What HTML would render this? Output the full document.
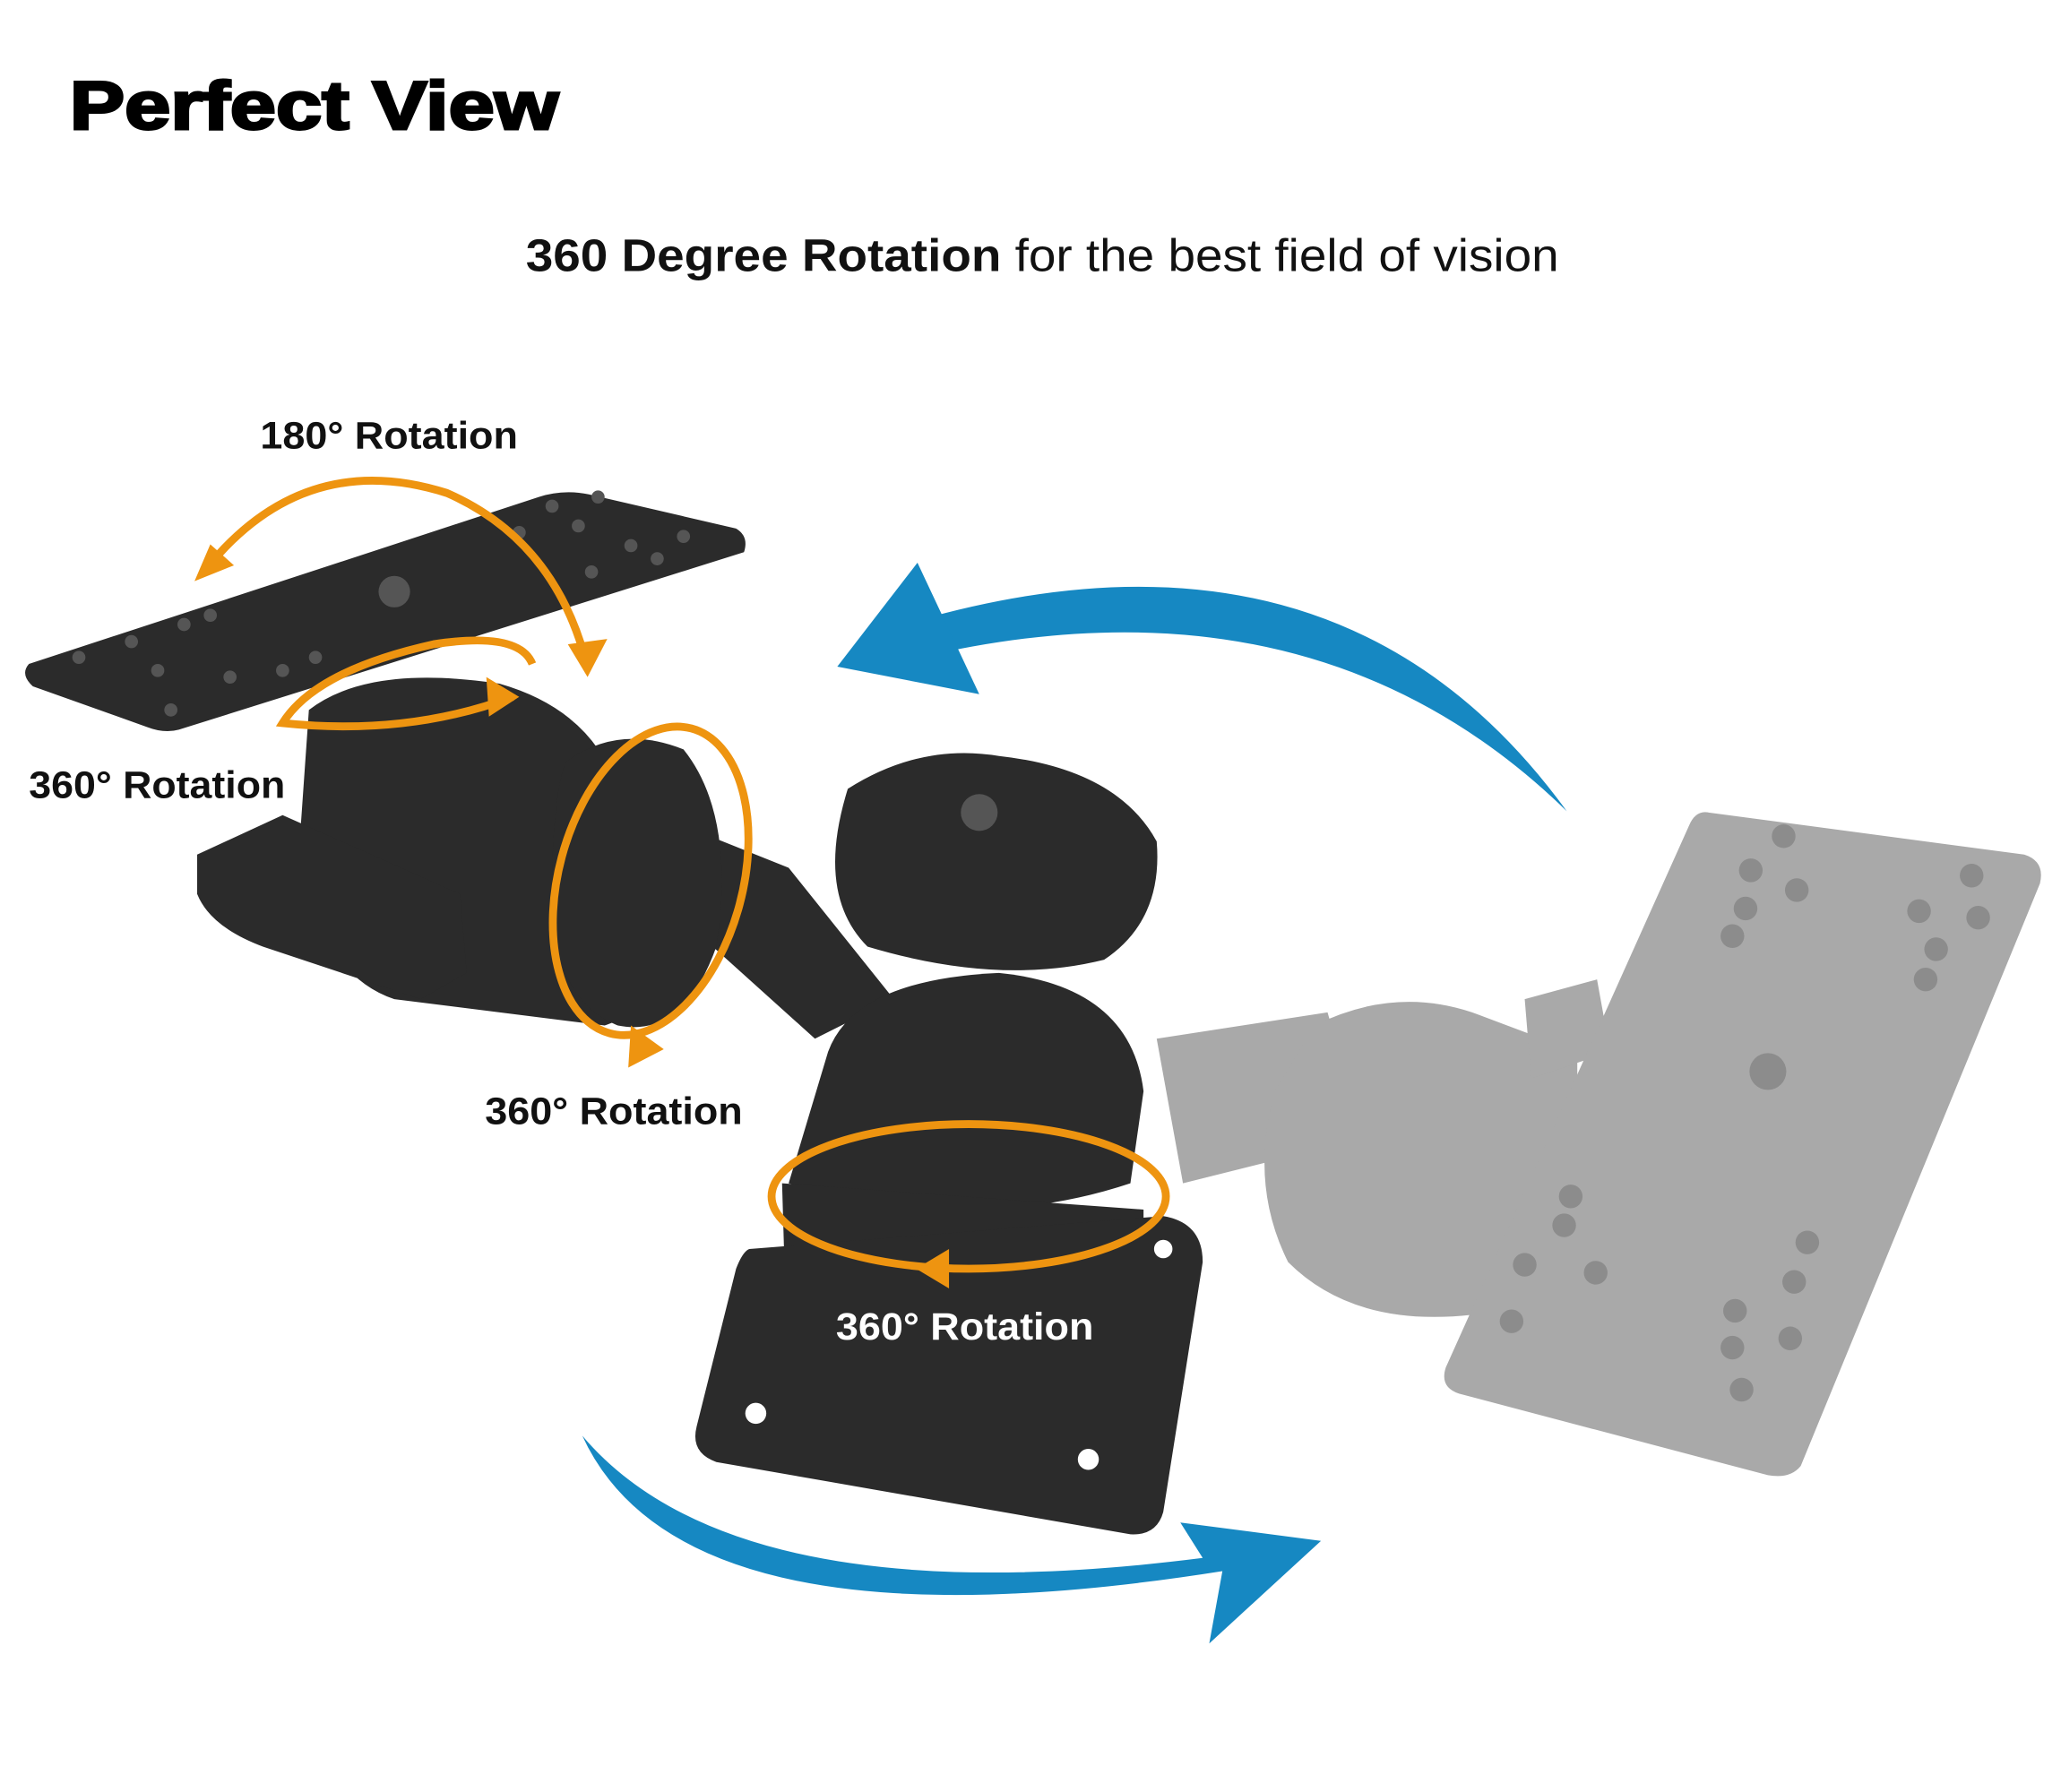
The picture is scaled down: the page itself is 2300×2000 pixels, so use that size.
<!DOCTYPE html>
<html><head><meta charset="utf-8"><style>
html,body{margin:0;padding:0;background:#fff}
svg{display:block}
</style></head><body>
<svg width="2300" height="2000" viewBox="0 0 1568 1363" preserveAspectRatio="none" xmlns="http://www.w3.org/2000/svg">
<rect width="1568" height="1363" fill="#fff"/>
<text x="53" y="98" font-family="Liberation Sans, sans-serif" font-weight="900" font-size="52" fill="#000" stroke="#000" stroke-width="2" textLength="372" lengthAdjust="spacingAndGlyphs">Perfect View</text>
<text x="400" y="206" font-family="Liberation Sans, sans-serif" font-size="35" fill="#111" textLength="786" lengthAdjust="spacingAndGlyphs"><tspan font-weight="bold">360 Degree Rotation</tspan> for the best field of vision</text>

<!-- ghost gray mount -->
<g fill="#a9a9a9">
<path d="M880 790 L1010 770 L1030 840 L1020 870 L900 900 Z"/>
<path d="M1000 780 Q1060 750 1120 770 L1200 800 L1200 960 L1120 1000 Q1030 1010 980 960 Q950 900 970 830 Z"/>
<path d="M1160 760 L1215 745 L1225 800 L1165 820 Z"/>
<path d="M1300 618 L1540 650 Q1556 655 1552 672 L1370 1115 Q1362 1125 1345 1122 L1110 1060 Q1095 1055 1100 1040 L1285 628 Q1290 616 1300 618 Z"/>
</g>
<g fill="#8c8c8c">
<circle cx="1357" cy="636" r="9"/><circle cx="1332" cy="662" r="9"/><circle cx="1367" cy="677" r="9"/><circle cx="1328" cy="691" r="9"/><circle cx="1318" cy="712" r="9"/><circle cx="1500" cy="666" r="9"/><circle cx="1460" cy="693" r="9"/><circle cx="1505" cy="698" r="9"/><circle cx="1473" cy="722" r="9"/><circle cx="1465" cy="745" r="9"/><circle cx="1345" cy="815" r="14"/><circle cx="1195" cy="910" r="9"/><circle cx="1190" cy="932" r="9"/><circle cx="1160" cy="962" r="9"/><circle cx="1214" cy="968" r="9"/><circle cx="1150" cy="1005" r="9"/><circle cx="1375" cy="945" r="9"/><circle cx="1365" cy="975" r="9"/><circle cx="1320" cy="997" r="9"/><circle cx="1362" cy="1018" r="9"/><circle cx="1318" cy="1025" r="9"/><circle cx="1325" cy="1057" r="9"/>
</g>

<!-- dark mount -->
<g fill="#2b2b2b">
<path d="M22 505 L410 378 Q428 372 448 376 L560 402 Q570 408 566 420 L136 555 Q125 558 112 553 L25 522 Q15 513 22 505 Z"/>
<path d="M235 540 Q280 505 380 520 Q450 540 470 600 L520 700 Q520 760 460 780 L300 760 Q240 740 228 640 Z"/>
<path d="M150 650 L215 620 L350 680 L355 740 L320 760 L200 720 Q160 705 150 680 Z"/>
<path d="M500 620 L600 660 L680 760 L620 790 L520 700 Z"/>
<path d="M430 580 Q470 550 520 570 Q560 620 545 720 Q520 790 470 780 Q420 760 420 680 Q420 610 430 580 Z"/>
<path d="M645 600 Q700 565 760 575 Q850 585 880 640 Q885 700 840 730 Q760 750 660 720 Q620 680 645 600 Z"/>
<path d="M630 800 Q650 745 760 740 Q860 750 870 830 L860 900 Q740 940 600 900 Z"/>
<path d="M595 900 L870 920 L870 1060 Q780 1100 600 1070 Z"/>
<path d="M570 950 L885 925 Q915 930 915 960 L885 1150 Q880 1168 860 1167 L545 1112 Q525 1105 530 1085 L560 965 Q565 952 570 950 Z"/>
</g>
<g fill="#555">
<circle cx="300" cy="450" r="12"/>
<circle cx="60" cy="500" r="5"/><circle cx="100" cy="488" r="5"/><circle cx="140" cy="475" r="5"/><circle cx="160" cy="468" r="5"/><circle cx="120" cy="510" r="5"/><circle cx="175" cy="515" r="5"/><circle cx="215" cy="510" r="5"/><circle cx="240" cy="500" r="5"/><circle cx="130" cy="540" r="5"/>
<circle cx="420" cy="385" r="5"/><circle cx="455" cy="378" r="5"/><circle cx="395" cy="405" r="5"/><circle cx="440" cy="400" r="5"/><circle cx="480" cy="415" r="5"/><circle cx="520" cy="408" r="5"/><circle cx="450" cy="435" r="5"/><circle cx="500" cy="425" r="5"/>
<circle cx="745" cy="618" r="14"/>
</g>
<g fill="#fff"><circle cx="575" cy="1075" r="8"/><circle cx="828" cy="1110" r="8"/><circle cx="885" cy="950" r="7"/></g>

<!-- blue arrows -->
<path d="M1192 617 Q1020 380 698 472 L700 500 Q1000 430 1192 617 Z" fill="#1688c2"/>
<path d="M637 507 L698 428 L745 528 Z" fill="#1688c2"/>
<path d="M443 1092 Q520 1260 930 1195 L920 1250 L1005 1172 L898 1158 L915 1185 Q560 1230 443 1092 Z" fill="#1688c2"/>

<!-- orange arrows -->
<g fill="none" stroke="#ee9410" stroke-width="6">
<path d="M155 435 Q230 340 340 375 Q420 410 445 500"/>
<path d="M405 505 Q395 480 330 490 Q240 510 215 550 Q310 560 390 530"/>
<ellipse cx="495" cy="670" rx="70" ry="120" transform="rotate(15 495 670)"/>
<ellipse cx="737" cy="910" rx="150" ry="55"/>
</g>
<g fill="#ee9410">
<path d="M148 442 L178 430 L160 414 Z"/>
<path d="M447 515 L462 486 L432 490 Z"/>
<path d="M395 530 L370 515 L372 545 Z"/>
<path d="M505 798 L480 780 L478 812 Z"/>
<path d="M697 965 L722 950 L722 980 Z"/>
</g>

<g font-family="Liberation Sans, sans-serif" font-weight="bold" font-size="29" fill="#111">
<text x="198" y="341" textLength="196" lengthAdjust="spacingAndGlyphs">180° Rotation</text>
<text x="22" y="607" textLength="195" lengthAdjust="spacingAndGlyphs">360° Rotation</text>
<text x="369" y="855" textLength="196" lengthAdjust="spacingAndGlyphs">360° Rotation</text>
<text x="636" y="1019" fill="#fff" textLength="196" lengthAdjust="spacingAndGlyphs">360° Rotation</text>
</g>
</svg>
</body></html>
